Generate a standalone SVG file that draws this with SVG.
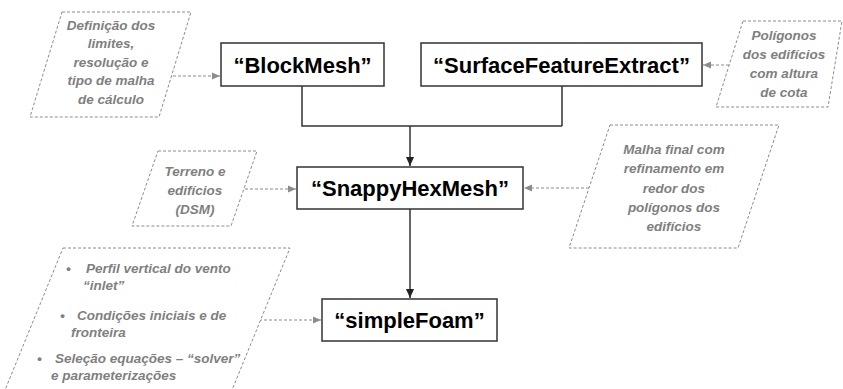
<svg xmlns="http://www.w3.org/2000/svg" width="843" height="389" viewBox="0 0 843 389">
<defs>
<style>
.box{fill:#fff;stroke:#333;stroke-width:1.5}
.title{font-family:"Liberation Sans",Arial,sans-serif;font-weight:bold;font-size:22px;fill:#000;text-anchor:middle}
.para{fill:#fff;stroke:#8c8c8c;stroke-width:1;stroke-dasharray:3 2}
.note{font-family:"Liberation Sans",Arial,sans-serif;font-weight:bold;font-style:italic;font-size:13.5px;fill:#7f7f7f;text-anchor:middle}
.notel{font-family:"Liberation Sans",Arial,sans-serif;font-weight:bold;font-style:italic;font-size:13.5px;fill:#7f7f7f}
.solid{fill:none;stroke:#333;stroke-width:1.5}
.dash{fill:none;stroke:#8c8c8c;stroke-width:1.2;stroke-dasharray:3 2}
</style>
<marker id="ah" markerWidth="10" markerHeight="10" refX="9" refY="5" orient="auto" markerUnits="userSpaceOnUse">
<path d="M0,1 L9,5 L0,9 Z" fill="#222"/>
</marker>
<marker id="ahg" markerWidth="10" markerHeight="10" refX="8" refY="5" orient="auto" markerUnits="userSpaceOnUse">
<path d="M0,1.5 L8,5 L0,8.5 Z" fill="#8c8c8c"/>
</marker>
</defs>
<rect width="843" height="389" fill="#fff"/>

<g id="connectors">
<path class="solid" d="M302,86 V126 H562 M562,86 V126"/>
<path class="solid" d="M410,126 V166" marker-end="url(#ah)"/>
<path class="solid" d="M410,209 V298" marker-end="url(#ah)"/>
<path class="dash" d="M173,76 H220" marker-end="url(#ahg)"/>
<path class="dash" d="M729,65 H703" marker-end="url(#ahg)"/>
<path class="dash" d="M245,189 H296" marker-end="url(#ahg)"/>
<path class="dash" d="M589,188 H524" marker-end="url(#ahg)"/>
<path class="dash" d="M259,320 H321" marker-end="url(#ahg)"/>
</g>

<g id="blockmesh">
<rect class="box" x="221" y="43" width="163" height="43"/>
<text class="title" x="302.5" y="72.5">“BlockMesh”</text>
</g>

<g id="surfacefeatureextract">
<rect class="box" x="421" y="43" width="281" height="43"/>
<text class="title" x="561.5" y="72.5">“SurfaceFeatureExtract”</text>
</g>

<g id="snappyhexmesh">
<rect class="box" x="297" y="167" width="226" height="42"/>
<text class="title" x="410" y="196">“SnappyHexMesh”</text>
</g>

<g id="simplefoam">
<rect class="box" x="322" y="299" width="175" height="42"/>
<text class="title" x="409.5" y="328">“simpleFoam”</text>
</g>

<g id="note-limites">
<polygon class="para" points="62,12 191,12 159,117 30,117"/>
<text class="note" x="111" y="29.5">Definição dos</text>
<text class="note" x="111" y="48">limites,</text>
<text class="note" x="111" y="66.5">resolução e</text>
<text class="note" x="111" y="85">tipo de malha</text>
<text class="note" x="111" y="104">de cálculo</text>
</g>

<g id="note-poligonos">
<polygon class="para" points="743,21 842,21 828,107 716,107"/>
<text class="note" x="784" y="39.5">Polígonos</text>
<text class="note" x="784" y="58.5">dos edifícios</text>
<text class="note" x="784" y="77.5">com altura</text>
<text class="note" x="784" y="97">de cota</text>
</g>

<g id="note-terreno">
<polygon class="para" points="158,151 257,151 231,226 132,226"/>
<text class="note" x="195" y="176">Terreno e</text>
<text class="note" x="195" y="194.5">edifícios</text>
<text class="note" x="195" y="213.5">(DSM)</text>
</g>

<g id="note-malha">
<polygon class="para" points="610,125 779,125 738,248 569,248"/>
<text class="note" x="674" y="153.5">Malha final com</text>
<text class="note" x="674" y="173">refinamento em</text>
<text class="note" x="674" y="192.5">redor dos</text>
<text class="note" x="674" y="212">polígonos dos</text>
<text class="note" x="674" y="231">edifícios</text>
</g>

<g id="note-condicoes">
<polygon class="para" points="63,248 290,248 230,395 3,395"/>
<text class="notel" x="66" y="272.5">•</text>
<text class="notel" x="86" y="272.5">Perfil vertical do vento</text>
<text class="notel" x="83" y="289.5">“inlet”</text>
<text class="notel" x="60" y="319.5">•</text>
<text class="notel" x="77" y="319.5">Condições iniciais e de</text>
<text class="notel" x="71" y="336.5">fronteira</text>
<text class="notel" x="37" y="362.5">•</text>
<text class="notel" x="55" y="362.5">Seleção equações – “solver”</text>
<text class="notel" x="51" y="379.5">e parameterizações</text>
</g>
</svg>
